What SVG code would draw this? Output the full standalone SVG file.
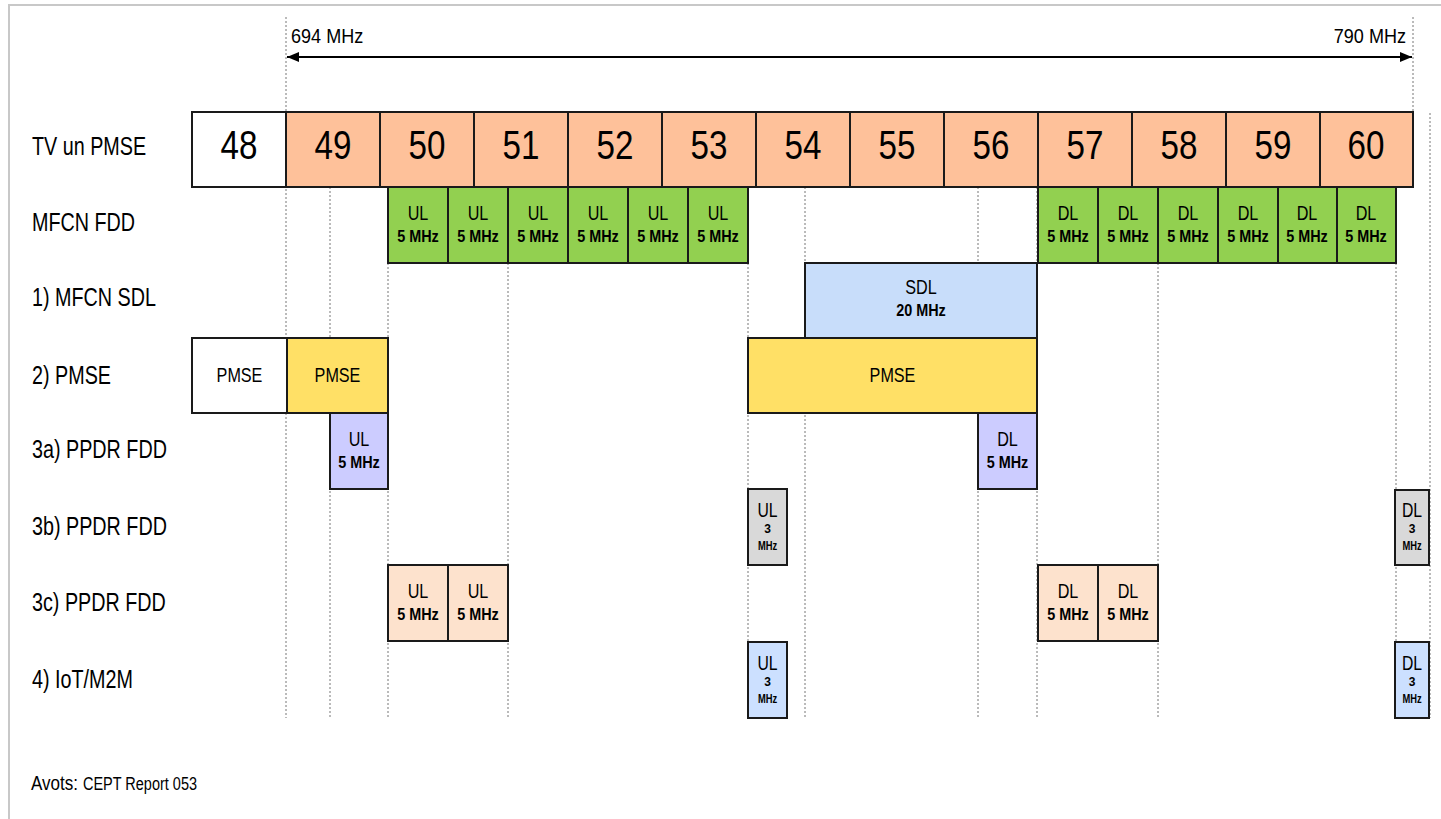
<svg xmlns="http://www.w3.org/2000/svg" width="1441" height="819" viewBox="0 0 1441 819">
<defs>
<style>
text{font-family:"Liberation Sans",Arial,sans-serif;fill:#000}
.rl{font-size:25px}
.ch{font-size:40px;text-anchor:middle}
.t1{font-size:21px;text-anchor:middle}
.t2{font-size:16px;font-weight:bold;text-anchor:middle}
.t3{font-size:12px;font-weight:bold;text-anchor:middle}
.top{font-size:21px}
.box{stroke:#1a1a1a;stroke-width:2}
.sal{fill:#FEC19A}.wht{fill:#fff}.grn{fill:#92D050}.sdl{fill:#C8DDFA}.yel{fill:#FFE066}.lav{fill:#CCCCFF}.gry{fill:#D9D9D9}.pch{fill:#FDE2CD}.blu{fill:#CCE0FF}
.grid{stroke:#777;stroke-width:1;stroke-dasharray:2 2;fill:none}
</style>
<marker id="ah" viewBox="0 0 12 10" refX="12" refY="5" markerWidth="12" markerHeight="10" markerUnits="userSpaceOnUse" orient="auto-start-reverse">
<path d="M0,0 L12,5 L0,10 Z" fill="#000"/>
</marker>
</defs>
<rect width="1441" height="819" fill="#fff"/>
<path d="M9,819 V5 H1441" fill="none" stroke="#c8c8c8" stroke-width="2"/>

<g id="connectors">
<path class="grid" d="M286,17 V718 M1413,17 V112 M1430,113 V718 M330,187 V718 M388,187 V718 M508,187 V718 M748,187 V718 M805,187 V718 M978,187 V718 M1037,187 V718 M1158,187 V718 M1396,187 V718"/>
<line x1="287" y1="57" x2="1412" y2="57" stroke="#000" stroke-width="2" marker-start="url(#ah)" marker-end="url(#ah)"/>
<text class="top" transform="translate(291 43) scale(0.86 1)">694 MHz</text>
<text class="top" text-anchor="end" transform="translate(1406 43) scale(0.86 1)">790 MHz</text>
</g>

<g id="row-labels">
<text class="rl" transform="translate(32 155) scale(0.79 1)">TV un PMSE</text>
<text class="rl" transform="translate(32 231) scale(0.79 1)">MFCN FDD</text>
<text class="rl" transform="translate(32 306) scale(0.79 1)">1) MFCN SDL</text>
<text class="rl" transform="translate(32 384) scale(0.79 1)">2) PMSE</text>
<text class="rl" transform="translate(32 458) scale(0.79 1)">3a) PPDR FDD</text>
<text class="rl" transform="translate(32 535) scale(0.79 1)">3b) PPDR FDD</text>
<text class="rl" transform="translate(32 611) scale(0.79 1)">3c) PPDR FDD</text>
<text class="rl" transform="translate(32 688) scale(0.79 1)">4) IoT/M2M</text>
</g>

<g id="tv-channels">
<rect class="box wht" x="192" y="112" width="94" height="75"/>
<rect class="box sal" x="286" y="112" width="94" height="75"/>
<rect class="box sal" x="380" y="112" width="94" height="75"/>
<rect class="box sal" x="474" y="112" width="94" height="75"/>
<rect class="box sal" x="568" y="112" width="94" height="75"/>
<rect class="box sal" x="662" y="112" width="94" height="75"/>
<rect class="box sal" x="756" y="112" width="94" height="75"/>
<rect class="box sal" x="850" y="112" width="94" height="75"/>
<rect class="box sal" x="944" y="112" width="94" height="75"/>
<rect class="box sal" x="1038" y="112" width="94" height="75"/>
<rect class="box sal" x="1132" y="112" width="94" height="75"/>
<rect class="box sal" x="1226" y="112" width="94" height="75"/>
<rect class="box sal" x="1320" y="112" width="93" height="75"/>
<text class="ch" transform="translate(239 159) scale(0.83 1)">48</text>
<text class="ch" transform="translate(333 159) scale(0.83 1)">49</text>
<text class="ch" transform="translate(427 159) scale(0.83 1)">50</text>
<text class="ch" transform="translate(521 159) scale(0.83 1)">51</text>
<text class="ch" transform="translate(615 159) scale(0.83 1)">52</text>
<text class="ch" transform="translate(709 159) scale(0.83 1)">53</text>
<text class="ch" transform="translate(803 159) scale(0.83 1)">54</text>
<text class="ch" transform="translate(897 159) scale(0.83 1)">55</text>
<text class="ch" transform="translate(991 159) scale(0.83 1)">56</text>
<text class="ch" transform="translate(1085 159) scale(0.83 1)">57</text>
<text class="ch" transform="translate(1179 159) scale(0.83 1)">58</text>
<text class="ch" transform="translate(1273 159) scale(0.83 1)">59</text>
<text class="ch" transform="translate(1366 159) scale(0.83 1)">60</text>
</g>

<g id="mfcn-fdd">
<rect class="box grn" x="388" y="187" width="60" height="76"/>
<rect class="box grn" x="448" y="187" width="60" height="76"/>
<rect class="box grn" x="508" y="187" width="60" height="76"/>
<rect class="box grn" x="568" y="187" width="60" height="76"/>
<rect class="box grn" x="628" y="187" width="60" height="76"/>
<rect class="box grn" x="688" y="187" width="60" height="76"/>
<rect class="box grn" x="1038" y="187" width="60" height="76"/>
<rect class="box grn" x="1098" y="187" width="60" height="76"/>
<rect class="box grn" x="1158" y="187" width="60" height="76"/>
<rect class="box grn" x="1218" y="187" width="60" height="76"/>
<rect class="box grn" x="1278" y="187" width="59" height="76"/>
<rect class="box grn" x="1337" y="187" width="59" height="76"/>
<g class="ul">
<text class="t1" transform="translate(418 220) scale(0.77 1)">UL</text><text class="t2" transform="translate(418 242) scale(0.9 1)">5 MHz</text>
<text class="t1" transform="translate(478 220) scale(0.77 1)">UL</text><text class="t2" transform="translate(478 242) scale(0.9 1)">5 MHz</text>
<text class="t1" transform="translate(538 220) scale(0.77 1)">UL</text><text class="t2" transform="translate(538 242) scale(0.9 1)">5 MHz</text>
<text class="t1" transform="translate(598 220) scale(0.77 1)">UL</text><text class="t2" transform="translate(598 242) scale(0.9 1)">5 MHz</text>
<text class="t1" transform="translate(658 220) scale(0.77 1)">UL</text><text class="t2" transform="translate(658 242) scale(0.9 1)">5 MHz</text>
<text class="t1" transform="translate(718 220) scale(0.77 1)">UL</text><text class="t2" transform="translate(718 242) scale(0.9 1)">5 MHz</text>
</g>
<g class="dl">
<text class="t1" transform="translate(1068 220) scale(0.77 1)">DL</text><text class="t2" transform="translate(1068 242) scale(0.9 1)">5 MHz</text>
<text class="t1" transform="translate(1128 220) scale(0.77 1)">DL</text><text class="t2" transform="translate(1128 242) scale(0.9 1)">5 MHz</text>
<text class="t1" transform="translate(1188 220) scale(0.77 1)">DL</text><text class="t2" transform="translate(1188 242) scale(0.9 1)">5 MHz</text>
<text class="t1" transform="translate(1248 220) scale(0.77 1)">DL</text><text class="t2" transform="translate(1248 242) scale(0.9 1)">5 MHz</text>
<text class="t1" transform="translate(1307 220) scale(0.77 1)">DL</text><text class="t2" transform="translate(1307 242) scale(0.9 1)">5 MHz</text>
<text class="t1" transform="translate(1366 220) scale(0.77 1)">DL</text><text class="t2" transform="translate(1366 242) scale(0.9 1)">5 MHz</text>
</g>
</g>

<g id="mfcn-sdl">
<rect class="box sdl" x="805" y="263" width="232" height="75"/>
<text class="t1" transform="translate(921 294) scale(0.77 1)">SDL</text>
<text class="t2" transform="translate(921 316) scale(0.9 1)">20 MHz</text>
</g>

<g id="pmse">
<rect class="box wht" x="192" y="338" width="95" height="75"/>
<rect class="box yel" x="287" y="338" width="101" height="75"/>
<rect class="box yel" x="748" y="338" width="289" height="75"/>
<text class="t1" transform="translate(239.5 382) scale(0.77 1)">PMSE</text>
<text class="t1" transform="translate(337.5 382) scale(0.77 1)">PMSE</text>
<text class="t1" transform="translate(892.5 382) scale(0.77 1)">PMSE</text>
</g>

<g id="ppdr-3a">
<rect class="box lav" x="330" y="413" width="58" height="76"/>
<rect class="box lav" x="978" y="413" width="59" height="76"/>
<text class="t1" transform="translate(359 446) scale(0.77 1)">UL</text><text class="t2" transform="translate(359 468) scale(0.9 1)">5 MHz</text>
<text class="t1" transform="translate(1007.5 446) scale(0.77 1)">DL</text><text class="t2" transform="translate(1007.5 468) scale(0.9 1)">5 MHz</text>
</g>

<g id="ppdr-3b">
<rect class="box gry" x="748" y="489" width="39" height="76"/>
<rect class="box gry" x="1395" y="490" width="34" height="75"/>
<text class="t1" transform="translate(767.5 517) scale(0.75 1)">UL</text><text class="t3" x="767.5" y="533">3</text><text class="t3" transform="translate(767.5 550) scale(0.78 1)">MHz</text>
<text class="t1" transform="translate(1412 517) scale(0.75 1)">DL</text><text class="t3" x="1412" y="533">3</text><text class="t3" transform="translate(1412 550) scale(0.78 1)">MHz</text>
</g>

<g id="ppdr-3c">
<rect class="box pch" x="388" y="565" width="60" height="76"/>
<rect class="box pch" x="448" y="565" width="60" height="76"/>
<rect class="box pch" x="1038" y="565" width="60" height="76"/>
<rect class="box pch" x="1098" y="565" width="60" height="76"/>
<text class="t1" transform="translate(418 598) scale(0.77 1)">UL</text><text class="t2" transform="translate(418 620) scale(0.9 1)">5 MHz</text>
<text class="t1" transform="translate(478 598) scale(0.77 1)">UL</text><text class="t2" transform="translate(478 620) scale(0.9 1)">5 MHz</text>
<text class="t1" transform="translate(1068 598) scale(0.77 1)">DL</text><text class="t2" transform="translate(1068 620) scale(0.9 1)">5 MHz</text>
<text class="t1" transform="translate(1128 598) scale(0.77 1)">DL</text><text class="t2" transform="translate(1128 620) scale(0.9 1)">5 MHz</text>
</g>

<g id="iot-m2m">
<rect class="box blu" x="748" y="642" width="39" height="76"/>
<rect class="box blu" x="1395" y="642" width="34" height="76"/>
<text class="t1" transform="translate(767.5 670) scale(0.75 1)">UL</text><text class="t3" x="767.5" y="686">3</text><text class="t3" transform="translate(767.5 703) scale(0.78 1)">MHz</text>
<text class="t1" transform="translate(1412 670) scale(0.75 1)">DL</text><text class="t3" x="1412" y="686">3</text><text class="t3" transform="translate(1412 703) scale(0.78 1)">MHz</text>
</g>

<g id="source">
<text x="31" y="790" font-size="20" textLength="47" lengthAdjust="spacingAndGlyphs">Avots:</text>
<text x="83" y="790" font-size="18" textLength="114" lengthAdjust="spacingAndGlyphs">CEPT Report 053</text>
</g>
</svg>
